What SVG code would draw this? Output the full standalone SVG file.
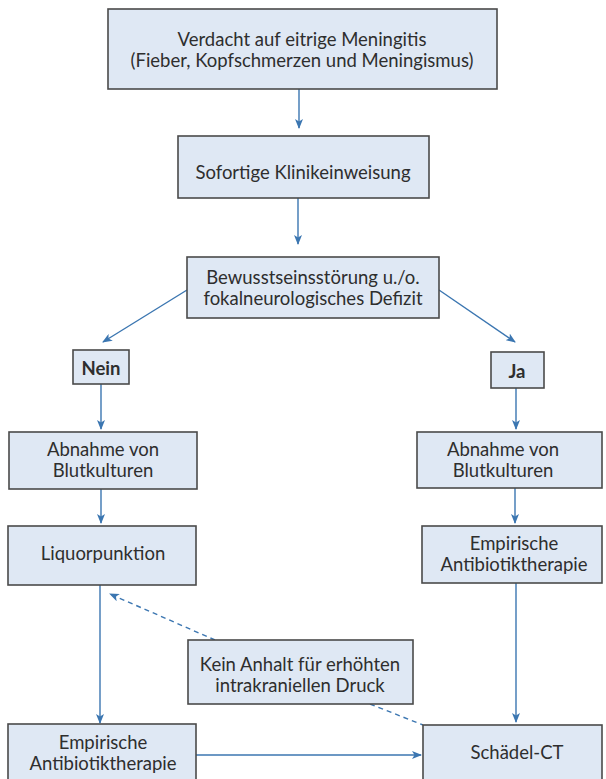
<svg xmlns="http://www.w3.org/2000/svg" width="606" height="779" viewBox="0 0 606 779">
<defs>
<marker id="ah" markerWidth="10" markerHeight="8" refX="9" refY="4" orient="auto" markerUnits="userSpaceOnUse">
<path d="M0,0 L10,4 L0,8 L2.5,4 Z" fill="#3b76b1"/>
</marker>
<style>
.box{fill:#dfe8f4;stroke:#4a4a4a;stroke-width:1.6}
.t{font-family:Lato,"Open Sans",sans-serif;font-size:18.5px;fill:#2e2e2e;text-anchor:middle;dominant-baseline:central}
.b{font-weight:bold}
.c{stroke:#3b76b1;stroke-width:1.4;fill:none;marker-end:url(#ah)}
.d{stroke-dasharray:5,4}
</style>
</defs>
<rect width="606" height="779" fill="#fff"/>
<g id="connectors">
<line class="c" x1="299" y1="89" x2="299" y2="128"/>
<line class="c" x1="298" y1="198" x2="298" y2="244"/>
<line class="c" x1="187" y1="290" x2="103" y2="342"/>
<line class="c" x1="439" y1="290" x2="515" y2="342"/>
<line class="c" x1="101" y1="384" x2="101" y2="429"/>
<line class="c" x1="516" y1="388" x2="516" y2="429"/>
<line class="c" x1="101" y1="489" x2="101" y2="523"/>
<line class="c" x1="515" y1="488" x2="515" y2="523"/>
<line class="c" x1="100" y1="585" x2="100" y2="723"/>
<line class="c" x1="516" y1="583" x2="516" y2="722"/>
<line class="c" x1="196" y1="755" x2="421" y2="755"/>
<line class="c d" x1="215" y1="640" x2="110" y2="594"/>
<line class="c d" x1="370" y1="704" x2="423" y2="725" style="marker-end:none"/>
</g>
<g id="n1"><rect class="box" x="108" y="9" width="389" height="80"/>
<text class="t" x="302" y="39">Verdacht auf eitrige Meningitis</text>
<text class="t" x="302" y="60">(Fieber, Kopfschmerzen und Meningismus)</text></g>
<g id="n2"><rect class="box" x="178" y="136" width="251" height="62"/>
<text class="t" x="303" y="172">Sofortige Klinikeinweisung</text></g>
<g id="n3"><rect class="box" x="187" y="257" width="252" height="61"/>
<text class="t" x="313" y="277">Bewusstseinsstörung u./o.</text>
<text class="t" x="313" y="298">fokalneurologisches Defizit</text></g>
<g id="nein"><rect class="box" x="73" y="350" width="56" height="34"/>
<text class="t b" x="101" y="368">Nein</text></g>
<g id="ja"><rect class="box" x="491" y="352" width="53" height="36"/>
<text class="t b" x="517" y="371">Ja</text></g>
<g id="n4"><rect class="box" x="9" y="432" width="188" height="57"/>
<text class="t" x="103" y="449">Abnahme von</text>
<text class="t" x="103" y="470">Blutkulturen</text></g>
<g id="n5"><rect class="box" x="417" y="432" width="185" height="56"/>
<text class="t" x="503" y="449">Abnahme von</text>
<text class="t" x="503" y="470">Blutkulturen</text></g>
<g id="n6"><rect class="box" x="8" y="526" width="188" height="59"/>
<text class="t" x="103" y="553">Liquorpunktion</text></g>
<g id="n7"><rect class="box" x="422" y="526" width="180" height="57"/>
<text class="t" x="514" y="543">Empirische</text>
<text class="t" x="514" y="564">Antibiotiktherapie</text></g>
<g id="n8"><rect class="box" x="188" y="640" width="225" height="64"/>
<text class="t" x="300" y="664">Kein Anhalt für erhöhten</text>
<text class="t" x="300" y="685">intrakraniellen Druck</text></g>
<g id="n9"><rect class="box" x="8" y="724" width="188" height="62"/>
<text class="t" x="103" y="742">Empirische</text>
<text class="t" x="103" y="763">Antibiotiktherapie</text></g>
<g id="n10"><rect class="box" x="423" y="725" width="179" height="60"/>
<text class="t" x="517" y="752">Schädel-CT</text></g>
</svg>
